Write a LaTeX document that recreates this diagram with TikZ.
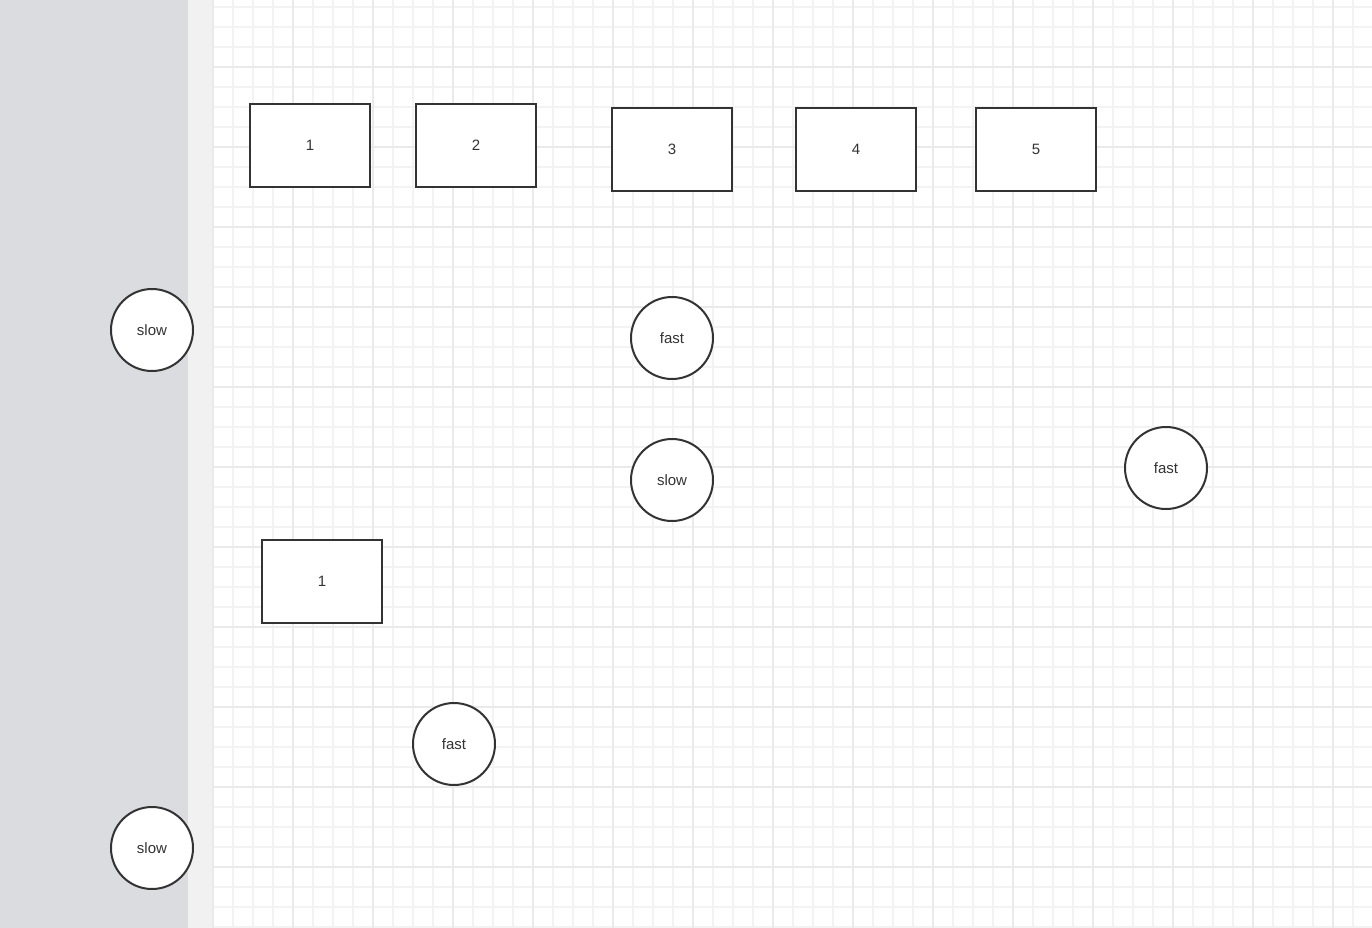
\documentclass[tikz,border=0pt]{standalone}
\usepackage{fontspec}
\setmainfont{Liberation Sans}
\definecolor{sidegray}{HTML}{DBDCE0}
\definecolor{stripgray}{HTML}{F1F1F1}
\definecolor{gridminor}{HTML}{F3F3F3}
\definecolor{gridmajor}{HTML}{EAEAEA}
\definecolor{ink}{HTML}{333333}
\tikzset{
	box/.style={draw=ink,line width=2pt,fill=white,minimum width=120pt,minimum height=83pt,inner sep=0pt,text=ink,font=\fontsize{15}{18}\selectfont},
	ball/.style={circle,draw=ink,line width=2pt,fill=white,minimum size=82pt,inner sep=0pt,text=ink,font=\fontsize{15}{18}\selectfont}
}
\begin{document}
\begin{tikzpicture}[x=1pt,y=-1pt]
	\useasboundingbox (0,0) rectangle (1372,928);
	% Hintergrund
	\fill[sidegray] (0,0) rectangle (188,928);
	\fill[stripgray] (188,0) rectangle (213,928);
	\fill[white] (213,0) rectangle (1372,928);
	\begin{scope}[line width=2pt]
		\foreach \i in {0,...,57} \draw[gridminor] ({213.3+20*\i},0) to ++(0,928);
		\foreach \j in {0,...,46} \draw[gridminor] (213,{6.7+20*\j}) to (1372,{6.7+20*\j});
		\foreach \i in {0,...,14} \draw[gridmajor] ({213.3+80*\i},0) to ++(0,928);
		\foreach \j in {0,...,10} \draw[gridmajor] (213,{66.7+80*\j}) to (1372,{66.7+80*\j});
	\end{scope}
	% obere Reihe
	\node[box] (b1) at (310,145.5) {1};
	\node[box] (b2) at (476,145.5) {2};
	\node[box] (b3) at (672,149.5) {3};
	\node[box] (b4) at (856,149.5) {4};
	\node[box] (b5) at (1036,149.5) {5};
	\node[box] (b6) at (322,581.5) {1};
	% Kreise
	\node[ball] (slowA) at (152,330) {slow};
	\node[ball] (fastA) at (672,338) {fast};
	\node[ball] (slowB) at (672,480) {slow};
	\node[ball] (fastB) at (1166,468) {fast};
	\node[ball] (fastC) at (454,744) {fast};
	\node[ball] (slowC) at (152,848) {slow};
\end{tikzpicture}
\end{document}
